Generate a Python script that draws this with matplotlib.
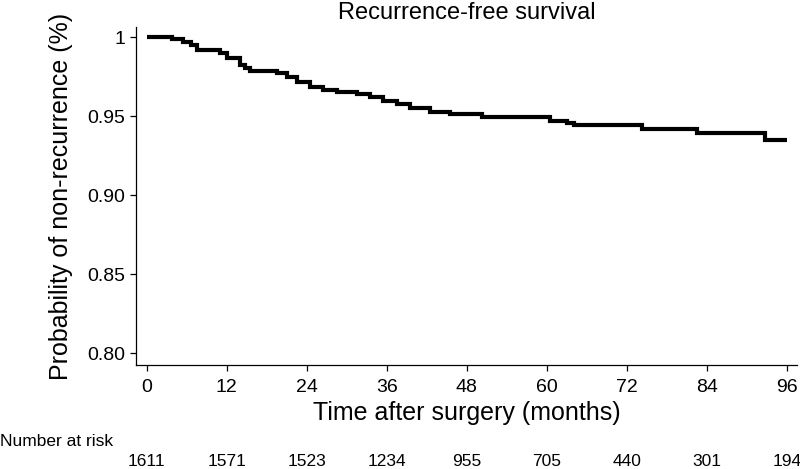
import matplotlib
matplotlib.use('Agg')
import matplotlib.pyplot as plt

plt.rcParams['font.family'] = ['Liberation Sans', 'DejaVu Sans']

# Kaplan-Meier estimate (months, survival)
months = [0, 3.8, 5.5, 6.6, 7.5, 11, 12, 14, 14.7, 15.5, 19.5, 21, 22.5, 24.5, 26.5,
          28.5, 31.5, 33.5, 35.5, 37.5, 39.5, 42.5, 45.5, 50.3, 60.4, 63, 64, 74.3,
          82.5, 92.7, 96]
survival = [1.0, 0.999, 0.9974, 0.9953, 0.992, 0.990, 0.9868, 0.9826, 0.9805, 0.979,
            0.9773, 0.9748, 0.972, 0.9689, 0.9668, 0.9653, 0.964, 0.9621, 0.960, 0.9577,
            0.9552, 0.953, 0.9516, 0.9495, 0.9473, 0.946, 0.9446, 0.942, 0.9394, 0.9351,
            0.9351]

x_ticks = [0, 12, 24, 36, 48, 60, 72, 84, 96]
y_ticks = [0.80, 0.85, 0.90, 0.95, 1.0]
y_tick_labels = ['0.80', '0.85', '0.90', '0.95', '1']
at_risk = [1611, 1571, 1523, 1234, 955, 705, 440, 301, 194]

fig = plt.figure(figsize=(8, 4.69), dpi=100)
ax = fig.add_axes([136 / 800, 1 - 365 / 469, (797 - 136) / 800, (365 - 27) / 469])

ax.plot(months, survival, drawstyle='steps-post', color='black', lw=3,
        solid_joinstyle='miter', solid_capstyle='butt')

ax.set_xlim(-1.6, 97.5)
ax.set_ylim(0.7927, 1.0066)
ax.set_xticks(x_ticks)
ax.set_yticks(y_ticks)
ax.set_yticklabels(y_tick_labels)

for side in ['top', 'right']:
  ax.spines[side].set_visible(False)
for side in ['left', 'bottom']:
  ax.spines[side].set_linewidth(0.9)

ax.tick_params(axis='both', direction='out', length=4.5, width=0.9, labelsize=14)
ax.tick_params(axis='x', pad=5.5)
ax.tick_params(axis='y', pad=3)

ax.set_title('Recurrence-free survival', fontsize=17, pad=6)
ax.set_xlabel('Time after surgery (months)', fontsize=18, va='center')
ax.xaxis.set_label_coords(0.5, (365 - 413) / 338)
ax.set_ylabel('Probability of non-recurrence (%)', fontsize=18, va='center')
ax.yaxis.set_label_coords((61 - 136) / 661, 0.5)

# number at risk table
fig.text(0.0, 1 - 441 / 469, 'Number at risk', fontsize=12.5, ha='left', va='center')
for t, n in zip(x_ticks, at_risk):
  ax.annotate(str(n), xy=(t, 0), xycoords=('data', 'axes fraction'),
              xytext=(0, -(461 - 365) * 0.72), textcoords='offset points',
              ha='center', va='center', fontsize=12.5, annotation_clip=False)

fig.savefig('out.png', dpi=100)
